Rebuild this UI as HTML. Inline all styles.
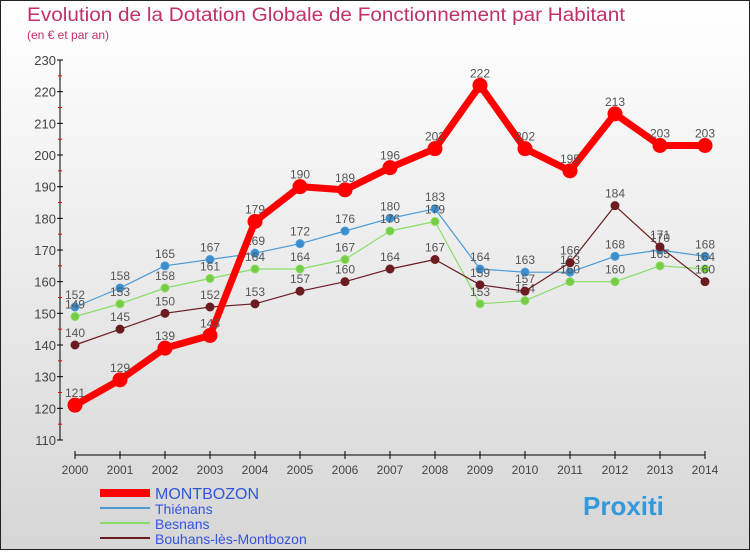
<!DOCTYPE html>
<html><head><meta charset="utf-8"><style>
body{margin:0;width:750px;height:550px;overflow:hidden;font-family:"Liberation Sans",sans-serif}
</style></head><body>
<svg width="750" height="550" xmlns="http://www.w3.org/2000/svg">
<defs><linearGradient id="bg" x1="0" y1="0" x2="0" y2="1"><stop offset="0" stop-color="#ffffff"/><stop offset="1" stop-color="#d6d6d6"/></linearGradient></defs>
<rect x="0.5" y="0.5" width="749" height="549" fill="url(#bg)" stroke="#222"/>
<text x="27" y="21" font-size="19" fill="#c0306a" textLength="598" lengthAdjust="spacingAndGlyphs">Evolution de la Dotation Globale de Fonctionnement par Habitant</text>
<text x="27" y="39" font-size="12" fill="#c0306a">(en € et par an)</text>
<g id="axes"></g><g id="series"></g><g id="legend"></g>
</svg>
<script>
const years=[2000,2001,2002,2003,2004,2005,2006,2007,2008,2009,2010,2011,2012,2013,2014];
const montbozon=[121,129,139,143,179,190,189,196,202,222,202,195,213,203,203];
const thienans=[152,158,165,167,169,172,176,180,183,164,163,163,168,170,168];
const besnans=[149,153,158,161,164,164,167,176,179,153,154,160,160,165,164];
const bouhans=[140,145,150,152,153,157,160,164,167,159,157,166,184,171,160];
const yTicks=[110,120,130,140,150,160,170,180,190,200,210,220,230];
const NS="http://www.w3.org/2000/svg";
const X=i=>75+i*45, Y=v=>440-(v-110)*380/120;
function mk(t,a,p){const e=document.createElementNS(NS,t);for(const k in a)e.setAttribute(k,a[k]);p.appendChild(e);return e;}
const ax=document.getElementById('axes');
let l=mk('line',{x1:60,y1:60,x2:60,y2:440,stroke:'#000'},ax);

yTicks.forEach((v,i)=>{mk('line',{x1:57,y1:Y(v),x2:63,y2:Y(v),stroke:'#000'},ax);
 if(i<yTicks.length-1)mk('line',{x1:58,y1:Y(v+5),x2:62,y2:Y(v+5),stroke:'#e00'},ax);
 const t=mk('text',{x:56,y:Y(v)+5,'font-size':13,fill:'#444','text-anchor':'end'},ax);t.textContent=v;
 });
l=mk('line',{x1:75,y1:455,x2:705,y2:455,stroke:'#000'},ax);

years.forEach((y,i)=>{mk('line',{x1:X(i),y1:451,x2:X(i),y2:459,stroke:'#000'},ax);
 const t=mk('text',{x:X(i),y:474,'font-size':12,fill:'#444','text-anchor':'middle'},ax);t.textContent=y;
 });
const sg=document.getElementById('series');
function draw(vals,color,w,r,name,dot){
 const g=mk('g',{},sg);
 const p=mk('polyline',{points:vals.map((v,i)=>X(i)+','+Y(v)).join(' '),fill:'none',stroke:color,'stroke-width':w,'stroke-linejoin':'round'},g);
 
 vals.forEach((v,i)=>{const c=mk('circle',{cx:X(i),cy:Y(v),r:r,fill:dot,stroke:color,'stroke-width':1},g);
  
  const t=mk('text',{x:X(i),y:Y(v)-8,'font-size':12,fill:'#555','text-anchor':'middle'},g);t.textContent=v;
  });
}
draw(thienans,'#4a9ad4',1.2,4,'thienans','#3a8ed0');
draw(besnans,'#88dd66',1.2,4,'besnans','#77cc44');
draw(bouhans,'#6b1c20',1.2,4,'bouhans','#6b1c20');
draw(montbozon,'#ff0000',7,7,'montbozon','#ff0000');
const lg=document.getElementById('legend');
[['MONTBOZON','#ff0000',8,'#3355dd'],['Thiénans','#4a9ad4',2,'#3355dd'],['Besnans','#88dd66',2,'#3355dd'],['Bouhans-lès-Montbozon','#6b1c20',2,'#3355dd']].forEach((d,i)=>{
 const y=493+i*15;
 const e=mk('line',{x1:100,y1:y,x2:150,y2:y,stroke:d[1],'stroke-width':d[2]},lg);
 
 const t=mk('text',{x:155,y:y+6,'font-size':i==0?16:14,fill:d[3]},lg);t.textContent=d[0];
 
});
const b=mk('text',{x:583,y:515,'font-size':26,'font-weight':'bold',fill:'#3399dd'},lg);b.textContent='Proxiti';

</script>
</body></html>
